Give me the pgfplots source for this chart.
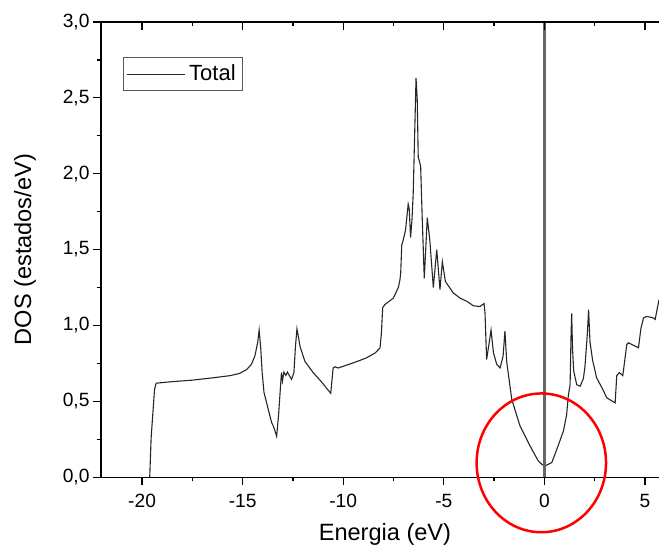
\documentclass[border=0pt]{standalone}
\usepackage{fontspec}
\setmainfont{Liberation Sans}
\usepackage{pgfplots}
\pgfplotsset{compat=1.18}

\begin{document}
\begin{tikzpicture}
\useasboundingbox (-50.5pt,-36.5pt) rectangle (279.5pt,239pt);
% main axis: bottom and left lines, ticks pointing outward
\begin{axis}[
  at={(0,0)}, anchor=south west,
  scale only axis, width=279.5pt, height=228pt,
  xmin=-22.05, xmax=5.7, ymin=0, ymax=3,
  axis x line*=bottom, axis y line*=left,
  axis line style={-, line width=0.75pt},
  xtick={-20,-15,...,5}, ytick={0,0.5,...,3},
  minor x tick num=1, minor y tick num=1,
  tick align=outside,
  major tick length=4pt, minor tick length=2pt,
  every tick/.style={black, line width=0.6pt},
  /pgf/number format/assume math mode=true,
  tick label style={font=\fontsize{9.6}{11}\selectfont},
  xticklabel style={yshift=-1pt},
  yticklabel style={inner sep=1.5pt, /pgf/number format/.cd, fixed, fixed zerofill, precision=1, use comma},
  xlabel={Energia (eV)}, ylabel={DOS (estados/eV)},
  every axis x label/.style={at={(axis description cs:0.509,-0.125)}, anchor=center,
    font=\fontsize{11.8}{14}\selectfont},
  every axis y label/.style={at={(axis description cs:-0.136,0.5)}, rotate=90, anchor=center,
    font=\fontsize{11.8}{14}\selectfont},
  legend style={at={(axis description cs:0.039,0.923)}, anchor=north west,
    draw=gray!70!black, line width=0.6pt, inner sep=1.5pt,
    font=\fontsize{11}{13}\selectfont},
  legend image code/.code={\draw[#1] (0pt,0pt) -- (26pt,0pt); \path (0pt,0pt) -- (29pt,0pt);},
]
\addplot[black!85, line width=0.55pt] coordinates {
(-19.62,0) (-19.55,0.26) (-19.38,0.58) (-19.3,0.62) (-18.5,0.63) (-17.5,0.64)
(-16.5,0.655) (-15.6,0.67) (-15.14,0.685) (-14.8,0.71) (-14.56,0.745) (-14.39,0.80)
(-14.25,0.89) (-14.18,0.97) (-14.1,0.85) (-14.03,0.69) (-13.94,0.56) (-13.75,0.46)
(-13.56,0.36) (-13.45,0.33) (-13.31,0.27) (-13.22,0.40) (-13.15,0.535) (-13.07,0.69)
(-13.02,0.634) (-12.95,0.693) (-12.85,0.671) (-12.77,0.693) (-12.69,0.673) (-12.57,0.645)
(-12.45,0.69) (-12.38,0.85) (-12.30,0.978) (-12.22,0.92) (-12.15,0.864) (-11.91,0.765)
(-11.49,0.689) (-11.07,0.627) (-10.62,0.553) (-10.50,0.72) (-10.41,0.728) (-10.25,0.72)
(-9.50,0.754) (-9.17,0.77) (-8.84,0.787) (-8.4,0.82) (-8.17,0.853) (-8.10,0.95)
(-8.04,1.116) (-7.93,1.138) (-7.51,1.18) (-7.26,1.25) (-7.18,1.30) (-7.14,1.35)
(-7.09,1.53) (-7.01,1.566) (-6.90,1.63) (-6.77,1.80) (-6.72,1.77) (-6.65,1.58)
(-6.58,1.70) (-6.52,1.87) (-6.43,2.355) (-6.38,2.63) (-6.32,2.49) (-6.27,2.11)
(-6.15,2.05) (-6.07,1.70) (-5.97,1.31) (-5.82,1.71) (-5.69,1.555) (-5.52,1.25)
(-5.35,1.5) (-5.19,1.237) (-5.07,1.42) (-4.92,1.29) (-4.53,1.215) (-4.19,1.18)
(-3.86,1.16) (-3.53,1.13) (-3.2,1.125) (-3.0,1.145) (-2.95,1.083) (-2.87,0.776)
(-2.75,0.88) (-2.65,0.97) (-2.53,0.82) (-2.37,0.745) (-2.20,0.72) (-2.05,0.80)
(-1.96,0.963) (-1.87,0.76) (-1.62,0.513) (-1.21,0.338) (-0.71,0.206) (-0.30,0.107)
(-0.13,0.086) (0.03,0.074) (0.2,0.086) (0.37,0.097) (0.62,0.184) (0.95,0.305)
(1.11,0.414) (1.19,0.535) (1.28,0.61) (1.33,0.95) (1.36,1.08) (1.40,0.85)
(1.46,0.70) (1.61,0.61) (1.78,0.60) (1.94,0.65) (2.02,0.73) (2.14,0.95)
(2.20,1.105) (2.27,0.89) (2.40,0.77) (2.60,0.655) (2.94,0.57) (3.10,0.524)
(3.52,0.49) (3.60,0.67) (3.73,0.69) (3.9,0.67) (4.10,0.875) (4.18,0.886)
(4.68,0.853) (4.80,0.98) (4.93,1.05) (5.09,1.06) (5.42,1.05) (5.51,1.04) (5.7,1.17)
};
\addlegendentry{Total}
% Fermi level
\addplot[black!60, line width=1.2pt, forget plot] coordinates {(0,0) (0,3)};
\coordinate (ring) at (axis cs:-0.15,0.095);
\end{axis}
% top line with inward ticks
\begin{axis}[
  at={(0,0)}, anchor=south west,
  scale only axis, width=279.5pt, height=228pt,
  xmin=-22.05, xmax=5.7, ymin=0, ymax=3,
  axis x line*=top, axis y line=none,
  axis line style={-, line width=0.75pt},
  xtick={-20,-15,...,5}, minor x tick num=1,
  tick align=inside, xticklabels={},
  major tick length=4pt, minor tick length=2pt,
  every tick/.style={black, line width=0.6pt},
]
\end{axis}
\draw[red, line width=1.25pt] (ring) ellipse [x radius=32.4pt, y radius=34.75pt];
\end{tikzpicture}
\end{document}
